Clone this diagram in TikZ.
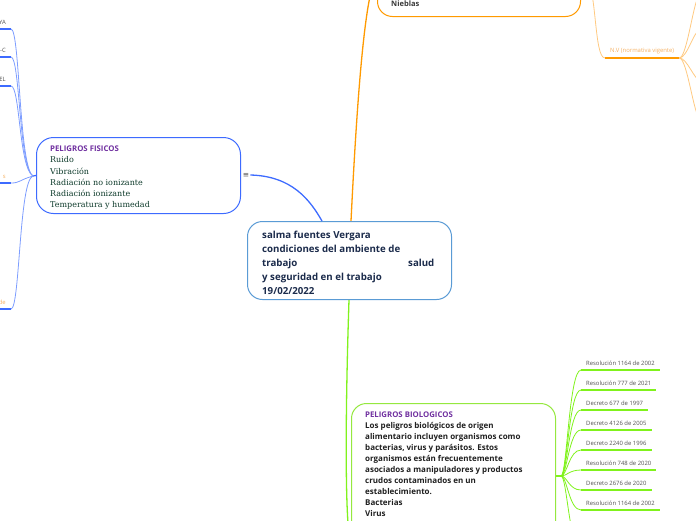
\documentclass[tikz,border=0pt]{standalone}
\usepackage{fontspec}
\setmainfont{Open Sans}
\newfontfamily\slabface{DejaVu Serif}
\newfontfamily\symface{DejaVu Sans}
\usetikzlibrary{positioning,calc}
\definecolor{linkblue}{HTML}{3D6BFF}
\definecolor{fanblue}{HTML}{7D9DFF}
\definecolor{ctrborder}{HTML}{5A9BD5}
\definecolor{navy}{HTML}{1B2B4B}
\definecolor{titlepurple}{HTML}{7030A0}
\definecolor{slabgreen}{HTML}{0E3B2B}
\definecolor{fogorange}{HTML}{FF9A00}
\definecolor{paleorange}{HTML}{FFC980}
\definecolor{leaforange}{HTML}{F5B062}
\definecolor{limeline}{HTML}{80F21C}
\definecolor{limeborder}{HTML}{95E83F}
\definecolor{leafgray}{HTML}{505050}

\begin{document}
\begin{tikzpicture}[x=1pt,y=-1pt,
  box/.style={draw,fill=white,line width=1pt,rounded corners=15pt,anchor=north west,inner sep=0pt},
  boxtext/.style={anchor=north west,inner sep=0pt,align=left},
  leaf/.style={inner xsep=5pt,inner ysep=4pt,font=\fontsize{5.9}{6.5}\selectfont,text=leafgray},
  cutleaf/.style={leaf,anchor=south east,text width=30pt,align=right},
  underline/.style={line width=1.8pt},
  link/.style={line width=1.3pt},
  fan/.style={line width=0.8pt}]
\useasboundingbox (0,0) rectangle (696,520);
\clip (0,0) rectangle (696,520);

\node[box,draw=fogorange,minimum width=203pt,minimum height=80pt] (fog) at (377,-64) {};
\node[boxtext,font=\fontsize{7.5}{9}\selectfont\bfseries,text=leafgray!70!black] (fogtext) at (391,1) {Nieblas};
\coordinate (jfog) at (586,-24);
\draw[link,fogorange] (fog.east) -- (jfog);

\node[leaf,anchor=south west,text=leaforange] (nv) at (605,58) {N.V (normativa vigente)};
\draw[underline,fogorange] (nv.south west) -- (nv.south east);
\draw[fan,paleorange] (jfog) .. controls (597,-10) and (594,58) .. (nv.south west);
\foreach \t in {-5,30,80,118}
  \draw[fan,paleorange] (nv.south east) .. controls +(8,0) and +(-6,0) .. (700,\t);

\node[box,draw=ctrborder,minimum width=204pt,minimum height=78pt] (ctr) at (247,221) {};
\node[boxtext,font=\fontsize{9.7}{14}\selectfont\bfseries,text=navy] (ctrtext) at (262,231)
  {salma fuentes Vergara\\condiciones del ambiente de\\\makebox[146pt][l]{trabajo}salud\\y seguridad en el trabajo\\19/02/2022};

\node[box,draw=linkblue,minimum width=204pt,minimum height=76pt,rounded corners=17pt] (phys) at (36,137) {};
\node[boxtext,font=\fontsize{8}{11.1}\selectfont,text=slabgreen] (phystext) at (50,146)
  {{\fontsize{7.8}{11.1}\selectfont\bfseries\color{titlepurple}PELIGROS FISICOS}\\\slabface Ruido\\\slabface Vibración\\\slabface Radiación no ionizante\\\slabface Radiación ionizante\\\slabface Temperatura y humedad};
\node[font=\symface\fontsize{7.5}{8}\selectfont,text=leafgray,inner sep=1pt] (more) at (246,175) {≡};
\draw[link,linkblue] (more.east) .. controls (292,176) and (310,200) .. ($(ctr.north west)+(75,0)$);

\node[box,draw=limeborder,minimum width=204pt,minimum height=280pt] (bio) at (351,403) {};
\node[boxtext,font=\fontsize{8}{11}\selectfont\bfseries,text=leafgray!40!black] (biotext) at (365,412)
  {{\fontsize{7.8}{11}\selectfont\color{titlepurple}PELIGROS BIOLOGICOS}\\Los peligros biológicos de origen\\alimentario incluyen organismos como\\bacterias, virus y parásitos. Estos\\organismos están frecuentemente\\asociados a manipuladores y productos\\crudos contaminados en un\\establecimiento.\\Bacterias\\Virus};

\draw[link,fogorange] ($(ctr.north west)+(104,0)$) .. controls (356,120) and (364,-10) .. (fog.west);
\draw[link,limeline] ($(ctr.south west)+(102,0)$) .. controls (345,420) and (345,530) .. (bio.west);

\coordinate (jphys) at (33,176);
\draw[link,linkblue] (phys.west) -- (jphys);
\foreach \y/\t in {29/YA,57/-C,86/EL} {
  \node[cutleaf] (l\y) at (11,\y) {\t};
  \draw[underline,linkblue] (l\y.south west) -- (l\y.south east);
  \draw[fan,fanblue] (l\y.south east) .. controls +(9,0) and +(-14,-8) .. (jphys);
}
\foreach \y/\t in {183/s,309/de} {
  \node[cutleaf,text=leaforange] (l\y) at (11,\y) {\t};
  \draw[underline,linkblue] (l\y.south west) -- (l\y.south east);
  \draw[fan,fanblue] (l\y.south east) .. controls +(9,0) and +(-14,4) .. (jphys);
}

\coordinate (jbio) at (561,476);
\draw[link,limeline] (bio.east |- jbio) -- (jbio);
\foreach \y/\t [count=\i] in {370/Resolución 1164 de 2002,390/Resolución 777 de 2021,410/Decreto 677 de 1997,
    430/Decreto 4126 de 2005,450/Decreto 2240 de 1996,470/Resolución 748 de 2020,
    490/Decreto 2676 de 2020,510/Resolución 1164 de 2002} {
  \node[leaf,anchor=south west] (b\i) at (581,\y) {\t};
  \draw[underline,limeline] (b\i.south west) -- (b\i.south east);
  \draw[fan,limeline] (jbio) .. controls +(6,0) and +(-12,0) .. (b\i.south west);
}
\draw[fan,limeline] (jbio) .. controls +(6,0) and +(-12,0) .. (581,548);
\end{tikzpicture}
\end{document}
